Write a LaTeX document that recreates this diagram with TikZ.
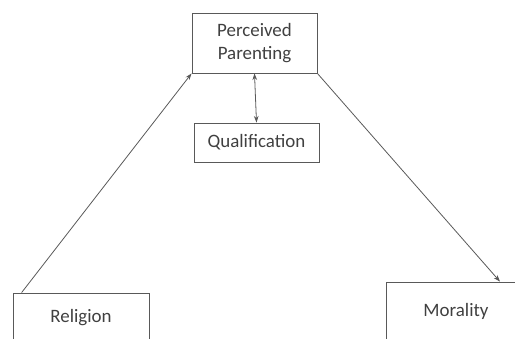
\documentclass[tikz,border=0pt]{standalone}
\usepackage{fontspec}
\setmainfont{Carlito}
\usepackage{tikz}
\usetikzlibrary{calc,arrows.meta}

\begin{document}
\begin{tikzpicture}[x=0.75pt,y=-0.75pt,
  box/.style={draw=black!65,line width=0.6pt,text=black!75,align=center,inner sep=0pt,
    font=\fontsize{14.2}{17.4}\selectfont},
  link/.style={draw=black!65,line width=0.6pt,-{Stealth[length=5pt,width=3.5pt]}}]
\pgfmathsetmacro{\w}{125*0.75}
\pgfmathsetmacro{\h}{39*0.75}
\useasboundingbox (0,0) rectangle (515,339);
\clip (0,0) rectangle (515,339);
\node[box,minimum width=\w pt,minimum height=60*0.75pt] (pp) at (254.5,43) {Perceived\\Parenting};
\node[box,minimum width=\w pt,minimum height=\h pt] (qual) at (256.5,142.5) {Qualification};
\node[box,minimum width=136*0.75pt,minimum height=50*0.75pt] (rel) at (81,318) {Religion};
\node[box,minimum width=140*0.75pt,minimum height=58*0.75pt] (mor) at (456,311) {Morality};
\draw[link] ([xshift=6.75pt]rel.north west) -- (pp.south west);
\draw[link] (pp.south east) -- ([xshift=33pt]mor.north);
\draw[link,{Stealth[length=5pt,width=3.5pt]}-{Stealth[length=5pt,width=3.5pt]}] (pp.south) -- (qual.north);
\end{tikzpicture}
\end{document}
